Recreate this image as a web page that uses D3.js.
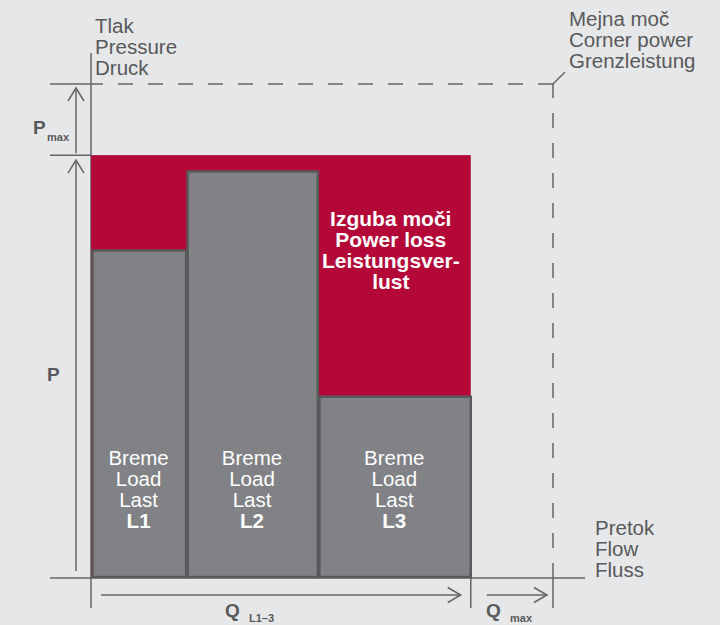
<!DOCTYPE html>
<html>
<head>
<meta charset="utf-8">
<script src="https://cdn.jsdelivr.net/npm/d3@7"></script>
<style>
  html, body { margin: 0; padding: 0; background: #e6e7e8; }
  svg { display: block; }
  text { font-family: "Liberation Sans", Arial, Helvetica, sans-serif; }
</style>
</head>
<body>
<svg id="chart" width="720" height="625"></svg>
<script>
// ---- data ----
const loads = ["L1", "L2", "L3"];
const loadFlows = [20.6, 28.5, 33.1];      // flow share of each load (% of Qmax)
const loadPressures = [66.6, 82.6, 37.0];  // pressure needed by each load (% of corner pressure)
const systemPressure = 85.6;               // P (pump pressure)
const cornerFlow = 100;                    // Qmax
const cornerPressure = 100;                // Pmax corner
const loadLines = ["Breme", "Load", "Last"];
const lossLines = ["Izguba moči", "Power loss", "Leistungsver-", "lust"];
const pressureLines = ["Tlak", "Pressure", "Druck"];
const cornerLines = ["Mejna moč", "Corner power", "Grenzleistung"];
const flowLines = ["Pretok", "Flow", "Fluss"];

// ---- setup ----
const svg = d3.select("#chart");
const RED = "#b30838", BAR = "#808285", DARK = "#58595b", LINE = "#636466";

const x = d3.scaleLinear().domain([0, cornerFlow]).range([91, 553]);
const y = d3.scaleLinear().domain([0, cornerPressure]).range([578, 84]);

// cumulative starts
let acc = 0;
const bars = loads.map((l, i) => {
  const b = { name: l, x0: acc, x1: acc + loadFlows[i], p: loadPressures[i] };
  acc += loadFlows[i];
  return b;
});
const totalFlow = acc;

const g = svg.append("g");
const line = (x1, y1, x2, y2, opts = {}) =>
  g.append("line").attr("x1", x1).attr("y1", y1).attr("x2", x2).attr("y2", y2)
    .attr("stroke", opts.color || LINE).attr("stroke-width", opts.w || 1.5)
    .attr("stroke-dasharray", opts.dash || null);

// axes
line(x(0), 53, x(0), 608);
line(50, y(0), 585, y(0));

// corner dashed lines
line(50, y(cornerPressure), 103, y(cornerPressure));
line(118, y(cornerPressure), x(cornerFlow), y(cornerPressure), { dash: "15,15" });
line(x(cornerFlow), y(cornerPressure) - 1, x(cornerFlow), 565, { dash: "15,15" });
line(x(cornerFlow), 565, x(cornerFlow), 608);
line(x(cornerFlow), y(cornerPressure), x(cornerFlow) + 12, y(cornerPressure) - 12);

// system pressure tick
line(50, y(systemPressure), x(0), y(systemPressure));
// total flow tick
line(x(totalFlow), y(0), x(totalFlow), 608);

// arrows
function upArrow(ax, yTop, yBot) {
  line(ax, yTop, ax, yBot);
  g.append("path").attr("d", `M${ax - 8},${yTop + 13} L${ax},${yTop} L${ax + 8},${yTop + 13}`)
    .attr("fill", "none").attr("stroke", LINE).attr("stroke-width", 1.5);
}
function rightArrow(ay, xL, xR) {
  line(xL, ay, xR, ay);
  g.append("path").attr("d", `M${xR - 13},${ay - 7.5} L${xR},${ay} L${xR - 13},${ay + 7.5}`)
    .attr("fill", "none").attr("stroke", LINE).attr("stroke-width", 1.5);
}
upArrow(76, y(cornerPressure) + 4, y(systemPressure) - 2);
upArrow(76, y(systemPressure) + 5, y(0) - 7);
rightArrow(595, x(0) + 10, x(totalFlow) - 10);
rightArrow(595, x(totalFlow) + 16, x(cornerFlow) - 6);

// power loss rectangle
g.append("rect")
  .attr("x", x(0)).attr("y", y(systemPressure))
  .attr("width", x(totalFlow) - x(0)).attr("height", y(0) - y(systemPressure))
  .attr("fill", RED);

// load bars
g.selectAll("rect.bar").data(bars).join("rect").attr("class", "bar")
  .attr("x", d => x(d.x0) + 1.5).attr("y", d => y(d.p) + 1.5)
  .attr("width", d => x(d.x1) - x(d.x0) - 1.5)
  .attr("height", d => y(0) - y(d.p) - 2.5)
  .attr("fill", BAR).attr("stroke", DARK).attr("stroke-width", 2.5);

// bar labels
bars.forEach((d, i) => {
  const cx = (x(d.x0) + x(d.x1)) / 2;
  const t = g.append("text").attr("text-anchor", "middle").attr("fill", "#fff")
    .style("font-size", "20.5px");
  loadLines.forEach((s, k) => t.append("tspan").attr("x", cx).attr("y", 465 + k * 21).text(s));
  t.append("tspan").attr("x", cx).attr("y", 465 + 3 * 21).attr("font-weight", "bold").text(d.name);
});

// power loss label
{
  const b = bars[2];
  const cx = (x(b.x0) + x(b.x1)) / 2 - 3.5;
  const t = g.append("text").attr("text-anchor", "middle").attr("fill", "#fff")
    .attr("font-weight", "bold").style("font-size", "21px");
  lossLines.forEach((s, k) => t.append("tspan").attr("x", cx).attr("y", 226 + k * 21).text(s));
}

// outer labels
function multi(lines, tx, ty, size) {
  const t = g.append("text").attr("fill", DARK).style("font-size", size + "px");
  lines.forEach((s, k) => t.append("tspan").attr("x", tx).attr("y", ty + k * 21).text(s));
}
multi(pressureLines, 95, 33, 20.5);
multi(cornerLines, 569, 26, 20.5);
multi(flowLines, 595, 535, 20.5);

function sym(main, sub, tx, ty, subDx, subDy) {
  const t = g.append("text").attr("fill", DARK).attr("font-weight", "bold")
    .attr("x", tx).attr("y", ty).style("font-size", "19px");
  t.append("tspan").text(main);
  g.append("text").attr("fill", DARK).attr("font-weight", "bold")
    .attr("x", tx + subDx).attr("y", ty + subDy).style("font-size", "11px").text(sub);
}
sym("P", "max", 33, 134, 14, 7);
sym("P", "", 47, 381, 0, 0);
sym("Q", "L1–3", 225, 617, 24, 5);
sym("Q", "max", 486, 617, 24, 5);
</script>
</body>
</html>
